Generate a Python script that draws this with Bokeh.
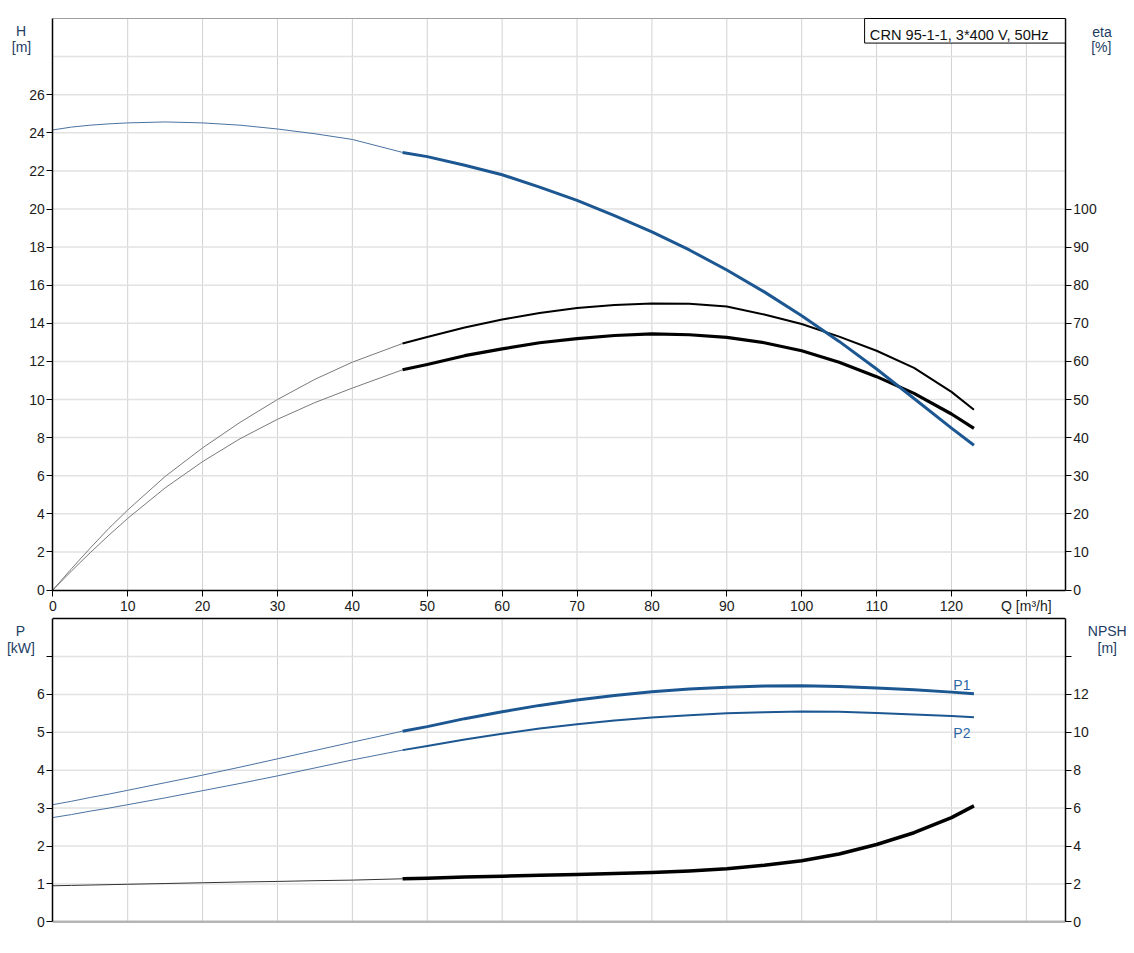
from bokeh.plotting import figure
from bokeh.models import LinearAxis, Range1d, FixedTicker, Label, BoxAnnotation, Div
from bokeh.layouts import column
from bokeh.embed import file_html
from bokeh.resources import INLINE

# ---------------- data ----------------
q_thin = [0, 2.5, 5, 7.5, 10, 15, 20, 25, 30, 35, 40, 46.7]
q_thick = [46.7, 50, 55, 60, 65, 70, 75, 80, 85, 90, 95, 100, 105, 110, 115, 120, 123]

h_thin = [24.15, 24.3, 24.4, 24.47, 24.52, 24.57, 24.52, 24.4, 24.2, 23.95, 23.65, 22.97]
h_thick = [22.97, 22.75, 22.3, 21.8, 21.15, 20.45, 19.65, 18.8, 17.85, 16.8, 15.65, 14.4,
           13.05, 11.6, 10.05, 8.5, 7.6]

eta1_thin = [0, 5.6, 11, 16.2, 21, 29.8, 37.3, 44, 50, 55.3, 59.8, 64.7]
eta1_thick = [64.7, 66.4, 68.9, 71.0, 72.7, 74.0, 74.8, 75.2, 75.1, 74.4, 72.3, 69.8,
              66.5, 62.8, 58.3, 52.0, 47.3]

eta2_thin = [0, 5.0, 9.8, 14.4, 18.8, 26.8, 33.7, 39.7, 44.8, 49.2, 53.0, 57.8]
eta2_thick = [57.8, 59.2, 61.5, 63.3, 64.9, 66.0, 66.8, 67.2, 67.0, 66.3, 64.9, 62.8,
              59.8, 56.0, 51.6, 46.2, 42.4]

p1_thin = [3.09, 3.18, 3.28, 3.37, 3.47, 3.67, 3.87, 4.08, 4.3, 4.52, 4.74, 5.03]
p1_thick = [5.03, 5.15, 5.36, 5.54, 5.71, 5.85, 5.97, 6.07, 6.14, 6.19, 6.22, 6.23,
            6.21, 6.17, 6.12, 6.06, 6.02]

p2_thin = [2.75, 2.83, 2.92, 3.0, 3.09, 3.27, 3.46, 3.65, 3.85, 4.06, 4.27, 4.53]
p2_thick = [4.53, 4.64, 4.81, 4.96, 5.1, 5.21, 5.31, 5.39, 5.45, 5.5, 5.53, 5.55,
            5.54, 5.51, 5.47, 5.43, 5.40]

npsh_thin = [1.9, 1.92, 1.94, 1.96, 1.98, 2.02, 2.06, 2.1, 2.13, 2.17, 2.2, 2.27]
npsh_thick = [2.27, 2.3, 2.36, 2.41, 2.45, 2.5, 2.55, 2.6, 2.68, 2.8, 2.98, 3.22,
              3.58, 4.08, 4.7, 5.5, 6.12]

x_ticks = [0, 10, 20, 30, 40, 50, 60, 70, 80, 90, 100, 110, 120, 130]
x_grid = [10, 20, 30, 40, 50, 60, 70, 80, 90, 100, 110, 120, 130]
h_ticks = [0, 2, 4, 6, 8, 10, 12, 14, 16, 18, 20, 22, 24, 26]
h_grid = [2, 4, 6, 8, 10, 12, 14, 16, 18, 20, 22, 24, 26, 28]
eta_ticks = [0, 10, 20, 30, 40, 50, 60, 70, 80, 90, 100]
p_ticks = [0, 1, 2, 3, 4, 5, 6, 7]
p_grid = [1, 2, 3, 4, 5, 6, 7]
npsh_ticks = [0, 2, 4, 6, 8, 10, 12, 14]

title_text = "CRN 95-1-1, 3*400 V, 50Hz"

# ---------------- style / geometry ----------------
FONT = "Liberation Sans"
FS = "14px"
TICK_COL = "#1b1b1b"
NAME_COL = "#1d3d63"
BLUE = "#1c5792"
BLUE_THIN = "#4a72a2"
GRID_H = "#e2e2e2"
GRID_V = "#d2d2d2"

W = 1130
PX_PER_Q = 7.489
X0_PX = 52.3
XMAX = 135.2
X_START = -X0_PX / PX_PER_Q
X_END = X_START + W / PX_PER_Q

H1 = 616            # top figure height
H_ZERO_PX = 589.5   # H = 0 position from top of top figure
PX_PER_H = 19.05
HMAX = 30
H_START = -(H1 - H_ZERO_PX) / PX_PER_H
H_END = H_ZERO_PX / PX_PER_H

H2 = 334            # bottom figure height
P_ZERO_PX = 921.3 - H1   # P = 0 position from top of bottom figure
PX_PER_P = 37.9
PMAX = 8
P_START = -(H2 - P_ZERO_PX) / PX_PER_P
P_END = P_ZERO_PX / PX_PER_P


def style_axis(ax, ticks, overrides=None, line_color="black"):
    ax.ticker = FixedTicker(ticks=ticks)
    ax.minor_tick_line_color = None
    ax.major_tick_in = 0
    ax.major_tick_out = 6
    ax.major_tick_line_color = "black"
    ax.axis_line_color = line_color
    ax.axis_line_width = 1.5
    ax.major_label_text_font = FONT
    ax.major_label_text_font_size = FS
    ax.major_label_text_color = TICK_COL
    ax.major_label_standoff = 2
    if overrides:
        ax.major_label_overrides = overrides


def name_label(fig, txt, x, y):
    fig.add_layout(Label(x=x, y=y, text=txt, text_align="center", text_baseline="alphabetic",
                         text_font=FONT, text_font_size=FS, text_color=NAME_COL))


def grids(fig, ys, top):
    fig.segment(x0=x_grid, x1=x_grid, y0=[0] * len(x_grid), y1=[top] * len(x_grid),
                line_color=GRID_V, line_width=1)
    fig.segment(x0=[0] * len(ys), x1=[XMAX] * len(ys), y0=ys, y1=ys,
                line_color=GRID_H, line_width=1.5)


def bare_figure(height, x_range, y_range):
    f = figure(width=W, height=height, x_range=x_range, y_range=y_range,
               output_backend="svg", toolbar_location=None,
               min_border_left=0, min_border_right=0, min_border_top=0, min_border_bottom=0)
    f.outline_line_color = None
    f.xgrid.visible = False
    f.ygrid.visible = False
    return f


# ---------------- top figure ----------------
x_range = Range1d(X_START, X_END)
p = bare_figure(H1, x_range, Range1d(H_START, H_END))
p.extra_y_ranges = {"eta": Range1d(5 * H_START, 5 * H_END)}

grids(p, h_grid, HMAX)
p.segment(x0=[0], x1=[XMAX], y0=[HMAX], y1=[HMAX], line_color="#a0a0a0", line_width=1)

style_axis(p.xaxis[0], x_ticks, {130: "Q [m³/h]"})
p.xaxis[0].fixed_location = 0
p.xaxis[0].bounds = (0, XMAX)
style_axis(p.yaxis[0], h_ticks)
p.yaxis[0].fixed_location = 0
p.yaxis[0].bounds = (0, HMAX)
ax_eta = LinearAxis(y_range_name="eta", fixed_location=XMAX, bounds=(0, 5 * HMAX))
style_axis(ax_eta, eta_ticks)
p.add_layout(ax_eta, "right")

# efficiency curves (on eta range)
p.line(q_thin, eta1_thin, y_range_name="eta", line_color="#7a7a7a", line_width=1)
p.line(q_thin, eta2_thin, y_range_name="eta", line_color="#7a7a7a", line_width=1)
p.line(q_thick, eta1_thick, y_range_name="eta", line_color="black", line_width=2, line_join="round")
p.line(q_thick, eta2_thick, y_range_name="eta", line_color="black", line_width=3.2, line_join="round")
# head curve
p.line(q_thin, h_thin, line_color=BLUE_THIN, line_width=1)
p.line(q_thick, h_thick, line_color=BLUE, line_width=3, line_join="round")

p.add_layout(BoxAnnotation(left=108.4, right=XMAX, bottom=28.71, top=HMAX,
                           fill_color="white", fill_alpha=1, line_color="black",
                           line_width=1, line_alpha=1))
p.add_layout(Label(x=109.1, y=29.16, text=title_text, text_font=FONT, text_font_size="14.6px",
                   text_color="#111111", text_baseline="alphabetic"))

name_label(p, "H", -4.25, 29.37)
name_label(p, "[m]", -4.18, 28.48)
name_label(p, "eta", 140.1, 29.27)
name_label(p, "[%]", 140.0, 28.48)

# ---------------- bottom figure ----------------
b = bare_figure(H2, x_range, Range1d(P_START, P_END))
b.extra_y_ranges = {"npsh": Range1d(2 * P_START, 2 * P_END)}

grids(b, p_grid, PMAX)
b.segment(x0=[0], x1=[XMAX], y0=[PMAX], y1=[PMAX], line_color="black", line_width=1.5)
b.segment(x0=[0], x1=[XMAX], y0=[0], y1=[0], line_color="#b5b5b5", line_width=2.5)

style_axis(b.yaxis[0], p_ticks, {7: ""})
b.yaxis[0].fixed_location = 0
b.yaxis[0].bounds = (0, PMAX)
ax_np = LinearAxis(y_range_name="npsh", fixed_location=XMAX, bounds=(0, 2 * PMAX))
style_axis(ax_np, npsh_ticks, {14: ""})
b.add_layout(ax_np, "right")
b.xaxis.visible = False

b.line(q_thin, p1_thin, line_color=BLUE_THIN, line_width=1)
b.line(q_thin, p2_thin, line_color=BLUE_THIN, line_width=1)
b.line(q_thick, p1_thick, line_color=BLUE, line_width=3, line_join="round")
b.line(q_thick, p2_thick, line_color=BLUE, line_width=2, line_join="round")
b.line(q_thin, npsh_thin, y_range_name="npsh", line_color="#333333", line_width=1)
b.line(q_thick, npsh_thick, y_range_name="npsh", line_color="black", line_width=3.5, line_join="round")

b.add_layout(Label(x=120.25, y=6.25, text="P1", text_font=FONT, text_font_size=FS,
                   text_color="#2d67a8", text_baseline="alphabetic"))
b.add_layout(Label(x=120.25, y=4.97, text="P2", text_font=FONT, text_font_size=FS,
                   text_color="#2d67a8", text_baseline="alphabetic"))

name_label(b, "P", -4.31, 7.686)
name_label(b, "[kW]", -4.25, 7.237)
name_label(b, "NPSH", 140.8, 7.66)
name_label(b, "[m]", 140.8, 7.237)

sep = Div(width=W, height=1, styles={"background-color": "#d4d4d4"})

layout = column(p, b, sep, spacing=0)
open("out.html", "w").write(file_html(layout, INLINE))
